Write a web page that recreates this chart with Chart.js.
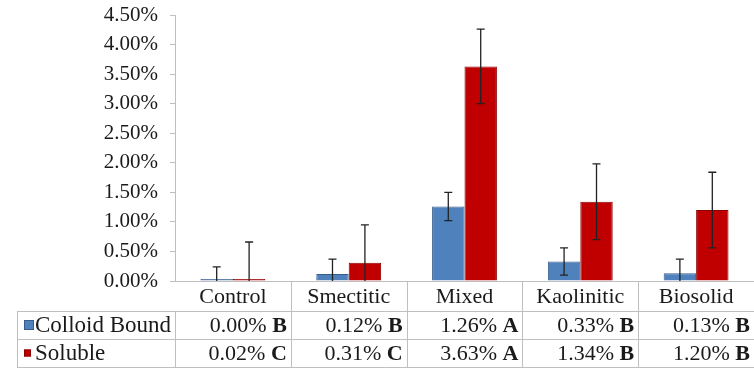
<!DOCTYPE html>
<html>
<head>
<meta charset="utf-8">
<script src="https://cdn.jsdelivr.net/npm/chart.js@4"></script>
<style>
  html, body { margin: 0; padding: 0; background: #fff; }
  canvas { display: block; }
</style>
</head>
<body>
<canvas id="c" width="754" height="375"></canvas>
<script>
const categories = ['Control', 'Smectitic', 'Mixed', 'Kaolinitic', 'Biosolid'];
const seriesNames = ['Colloid Bound', 'Soluble'];
const colloidValues = [0.00, 0.12, 1.26, 0.33, 0.13];
const solubleValues = [0.02, 0.31, 3.63, 1.34, 1.20];
const colloidErrors = [0.24, 0.25, 0.24, 0.23, 0.24];
const solubleErrors = [0.64, 0.64, 0.63, 0.64, 0.64];
const colloidLetters = ['B', 'B', 'A', 'B', 'B'];
const solubleLetters = ['C', 'C', 'A', 'B', 'B'];
const yTicks = { min: 0, max: 4.5, step: 0.5 };

const FONT = "'Liberation Serif', 'Times New Roman', serif";
const FSIZE = 21;
const TSIZE = 22;
const GRID = '#bfbfbf';
const colors = [
  { fill: '#4f81bd', border: '#385d8a' },
  { fill: '#c00000', border: '#8c0000' }
];
const errorSets = [colloidErrors, solubleErrors];
const letterSets = [colloidLetters, solubleLetters];
const valueSets = [colloidValues, solubleValues];

const errorBarPlugin = {
  id: 'errorBars',
  afterDatasetsDraw(chart) {
    const ctx = chart.ctx;
    const y = chart.scales.y;
    const area = chart.chartArea;
    ctx.save();
    ctx.beginPath();
    ctx.rect(area.left, area.top - 2, area.right - area.left, area.bottom - area.top + 2);
    ctx.clip();
    ctx.strokeStyle = '#222';
    ctx.lineWidth = 1.3;
    chart.data.datasets.forEach((ds, di) => {
      const meta = chart.getDatasetMeta(di);
      meta.data.forEach((bar, i) => {
        const v = ds.data[i];
        const e = errorSets[di][i];
        const x = bar.x;
        const yt = y.getPixelForValue(v + e);
        const lowV = v - e;
        const yb = y.getPixelForValue(Math.max(lowV, 0));
        ctx.beginPath();
        ctx.moveTo(x, yt); ctx.lineTo(x, yb);
        ctx.moveTo(x - 4, yt); ctx.lineTo(x + 4, yt);
        if (lowV > 0) { ctx.moveTo(x - 4, yb); ctx.lineTo(x + 4, yb); }
        ctx.stroke();
      });
    });
    ctx.restore();
  }
};

const tablePlugin = {
  id: 'dataTable',
  afterDraw(chart) {
    const ctx = chart.ctx;
    const xs = chart.scales.x;
    const area = chart.chartArea;
    const left = 17;
    const top = area.bottom;
    const r1 = top + 30, r2 = r1 + 28, r3 = r2 + 28;
    const n = categories.length;
    const half = (xs.getPixelForValue(1) - xs.getPixelForValue(0)) / 2;
    const bounds = [];
    for (let i = 0; i < n; i++) bounds.push(xs.getPixelForValue(i) - half);
    bounds.push(xs.getPixelForValue(n - 1) + half);

    ctx.save();
    ctx.strokeStyle = GRID;
    ctx.lineWidth = 1;
    ctx.beginPath();
    [r1, r2, r3].forEach(yy => { ctx.moveTo(left, yy + 0.5); ctx.lineTo(bounds[n], yy + 0.5); });
    bounds.forEach((bx, i) => {
      const xx = Math.round(bx) + 0.5;
      ctx.moveTo(xx, i === 0 ? r1 : top); ctx.lineTo(xx, r3);
    });
    ctx.moveTo(left + 0.5, r1); ctx.lineTo(left + 0.5, r3);
    ctx.stroke();

    const rows = [r1, r2];
    ctx.textBaseline = 'middle';
    rows.forEach((ry, si) => {
      const cy = ry + 14;
      const c = colors[si];
      const s = si === 0 ? 10 : 7;
      ctx.fillStyle = c.fill;
      ctx.fillRect(24, cy - s / 2, s, s);
      ctx.strokeStyle = c.border;
      ctx.strokeRect(24 + 0.5, cy - s / 2 + 0.5, s - 1, s - 1);
      ctx.fillStyle = '#1a1a1a';
      ctx.font = (TSIZE + 1) + 'px ' + FONT;
      ctx.textAlign = 'left';
      ctx.fillText(seriesNames[si], 35, cy + 1);
      for (let i = 0; i < n; i++) {
        const rx = bounds[i + 1] - 4;
        ctx.font = 'bold ' + TSIZE + 'px ' + FONT;
        ctx.textAlign = 'right';
        const letter = letterSets[si][i];
        ctx.fillText(letter, rx, cy + 1);
        const lw = ctx.measureText(letter).width;
        ctx.font = TSIZE + 'px ' + FONT;
        ctx.fillText(valueSets[si][i].toFixed(2) + '% ', rx - lw, cy + 1);
      }
    });
    ctx.restore();
  }
};

new Chart(document.getElementById('c'), {
  type: 'bar',
  data: {
    labels: categories,
    datasets: [
      { label: seriesNames[0], data: colloidValues, backgroundColor: colors[0].fill, borderColor: colors[0].border, borderWidth: 1, minBarLength: 2 },
      { label: seriesNames[1], data: solubleValues, backgroundColor: colors[1].fill, borderColor: colors[1].border, borderWidth: 1, minBarLength: 2 }
    ]
  },
  options: {
    responsive: false,
    animation: false,
    devicePixelRatio: 1,
    layout: { padding: { left: 0, right: 0, top: 15, bottom: 64 } },
    plugins: { legend: { display: false }, tooltip: { enabled: false } },
    datasets: { bar: { categoryPercentage: 0.56, barPercentage: 1.0 } },
    scales: {
      x: {
        grid: { display: false, drawTicks: false },
        border: { color: GRID, width: 1 },
        ticks: { color: '#1a1a1a', font: { family: FONT, size: TSIZE }, padding: 3, maxRotation: 0 },
        afterFit(axis) { axis.height = 30; axis.paddingLeft = 0; axis.paddingRight = 0; }
      },
      y: {
        min: yTicks.min, max: yTicks.max,
        grid: { drawOnChartArea: false, drawTicks: true, tickLength: 5, color: GRID },
        border: { color: GRID, width: 1 },
        ticks: {
          stepSize: yTicks.step,
          color: '#1a1a1a',
          font: { family: FONT, size: FSIZE },
          padding: 12,
          callback: v => v.toFixed(2) + '%'
        },
        afterFit(axis) { axis.width = 175; axis.paddingTop = 0; axis.paddingBottom = 0; }
      }
    }
  },
  plugins: [errorBarPlugin, tablePlugin]
});
</script>
</body>
</html>
